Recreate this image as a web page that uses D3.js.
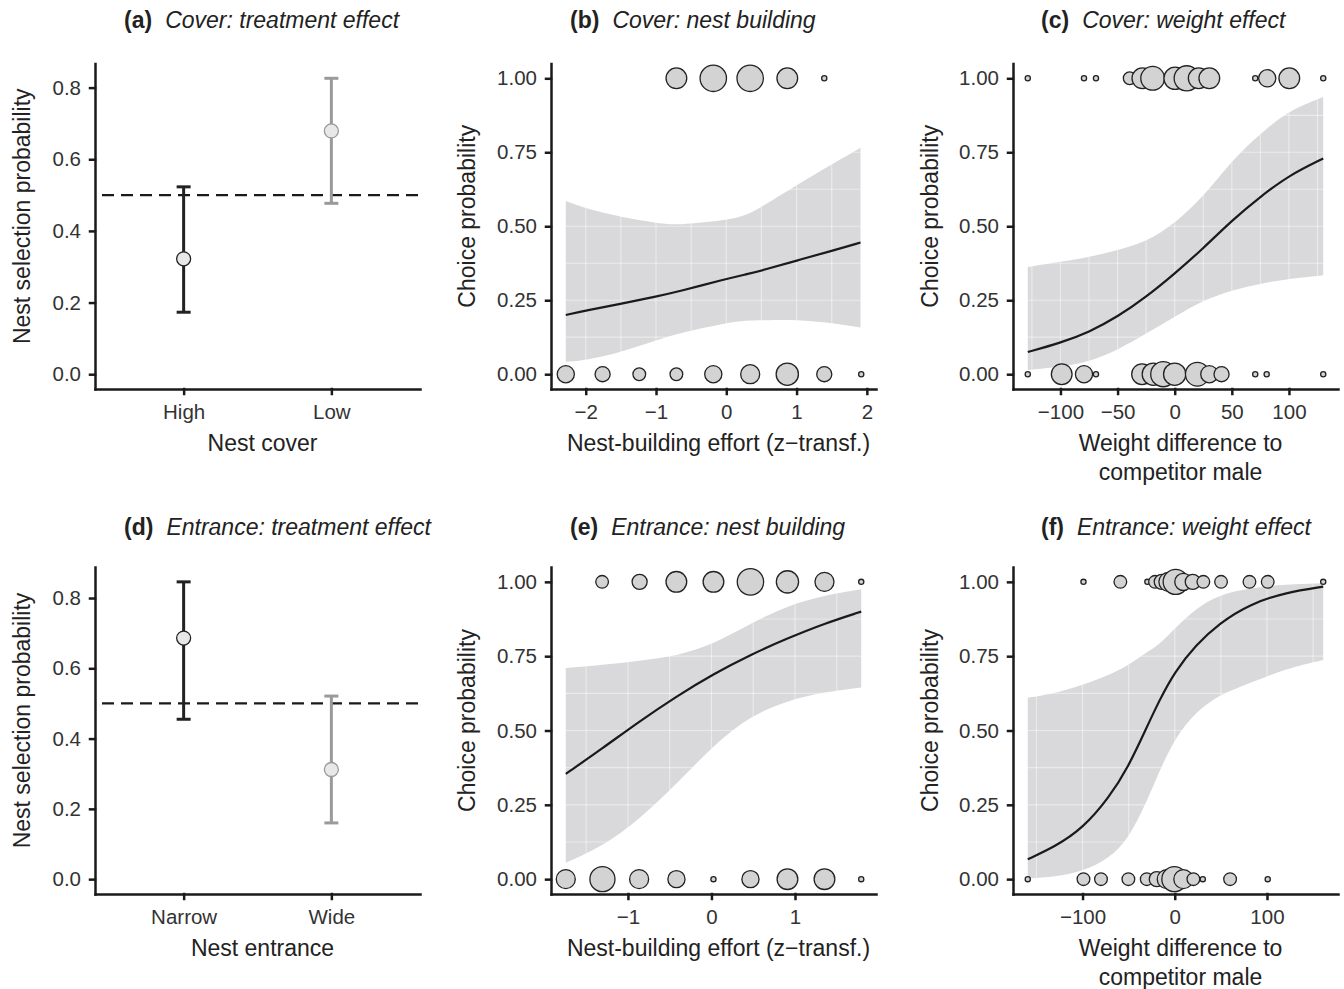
<!DOCTYPE html>
<html>
<head>
<meta charset="utf-8">
<script src="https://cdn.jsdelivr.net/npm/d3@7"></script>
<style>
  body { margin: 0; background: #fff; }
  text { font-family: "Liberation Sans", Arial, sans-serif; }
</style>
</head>
<body>
<script>
// ---- data ----

// (a) cover: treatment effect
const coverLevels = ["High", "Low"];
const coverEst = [0.322, 0.679];
const coverLo = [0.173, 0.477];
const coverHi = [0.523, 0.826];

// (d) entrance: treatment effect
const entranceLevels = ["Narrow", "Wide"];
const entranceEst = [0.686, 0.312];
const entranceLo = [0.455, 0.160];
const entranceHi = [0.846, 0.521];

// (b) cover: nest building
const bTopX = [-0.71, -0.185, 0.34, 0.868, 1.394];
const bTopN = [7, 11, 11, 7, 1];
const bBotX = [-2.284, -1.76, -1.238, -0.71, -0.185, 0.34, 0.868, 1.394, 1.92];
const bBotN = [5, 4, 3, 3, 5, 6, 8, 4, 1];
const bCurveX = [-2.284, -2, -1.49, -0.99, -0.7, 0, 0.29, 0.5, 1, 1.52, 1.91];
const bFit = [0.2, 0.215, 0.238, 0.263, 0.278, 0.322, 0.338, 0.35, 0.384, 0.418, 0.445];
const bHi = [0.585, 0.56, 0.531, 0.511, 0.503, 0.52, 0.537, 0.565, 0.639, 0.712, 0.765];
const bLo = [0.042, 0.047, 0.075, 0.115, 0.137, 0.173, 0.182, 0.182, 0.185, 0.173, 0.158];

// (c) cover: weight effect
const cTopX = [-128.6, -79.4, -68.9, -39.4, -28.3, -19.3, 0.3, 10.5, 21, 30.3, 70.5, 81, 100.3, 130];
const cTopN = [1, 1, 1, 3, 7, 9, 8, 10, 7, 7, 1, 5, 7, 1];
const cBotX = [-128.6, -98.9, -79.4, -68.9, -28.6, -18.7, -10, 0, 19.8, 30.3, 41, 70.5, 80.5, 130];
const cBotN = [1, 7, 5, 1, 7, 8, 10, 8, 9, 5, 4, 1, 1, 1];
const cCurveX = [-128.6, -100, -75, -50, -25, 0, 25, 50, 75, 100, 130];
const cFit = [0.075, 0.106, 0.142, 0.194, 0.261, 0.34, 0.425, 0.52, 0.6, 0.672, 0.729];
const cHi = [0.362, 0.38, 0.396, 0.419, 0.447, 0.509, 0.599, 0.723, 0.813, 0.892, 0.937];
const cLo = [0.014, 0.025, 0.042, 0.081, 0.137, 0.194, 0.25, 0.284, 0.306, 0.323, 0.334];

// (e) entrance: nest building
const eTopX = [-1.309, -0.86, -0.42, 0.024, 0.467, 0.91, 1.353, 1.793];
const eTopN = [3, 4, 7, 7, 11, 8, 6, 1];
const eBotX = [-1.744, -1.305, -0.866, -0.419, 0.024, 0.467, 0.91, 1.353, 1.793];
const eBotN = [6, 10, 6, 5, 1, 5, 7, 7, 1];
const eCurveX = [-1.744, -1.305, -0.866, -0.419, 0.024, 0.467, 0.91, 1.353, 1.793];
const eFit = [0.354, 0.44, 0.53, 0.615, 0.69, 0.755, 0.81, 0.86, 0.9];
const eHi = [0.71, 0.72, 0.735, 0.75, 0.79, 0.86, 0.92, 0.955, 0.975];
const eLo = [0.055, 0.11, 0.2, 0.32, 0.45, 0.55, 0.6, 0.63, 0.645];

// (f) entrance: weight effect
const fTopX = [-99, -59, -29.7, -21.4, -14.1, -6.9, 1, 9.3, 19.5, 31, 50.2, 81, 100.8, 161];
const fTopN = [1, 3, 1, 3, 4, 6, 10, 5, 4, 3, 3, 3, 3, 1];
const fBotX = [-159.4, -99, -80, -50.3, -30.4, -19.5, -8.7, -0.4, 9.3, 20.2, 30.4, 60, 100.8];
const fBotN = [1, 3, 3, 3, 3, 4, 6, 10, 6, 3, 1, 3, 1];
const fCurveX = [-159.4, -130, -100, -71, -50, -32, -17, 0, 23, 48, 81, 121, 161];
const fFit = [0.067, 0.109, 0.17, 0.275, 0.38, 0.5, 0.6, 0.698, 0.788, 0.86, 0.925, 0.965, 0.984];
const fHi = [0.61, 0.625, 0.653, 0.687, 0.72, 0.76, 0.788, 0.844, 0.911, 0.956, 0.979, 0.992, 0.995];
const fLo = [0.002, 0.008, 0.025, 0.07, 0.137, 0.249, 0.361, 0.474, 0.563, 0.62, 0.659, 0.709, 0.737];

// tick values
const probTicks = [0, 0.25, 0.5, 0.75, 1];
const treatTicks = [0, 0.2, 0.4, 0.6, 0.8];
const bTicks = [-2, -1, 0, 1, 2];
const cTicks = [-100, -50, 0, 50, 100];
const eTicks = [-1, 0, 1];
const fTicks = [-100, 0, 100];

// ---- layout ----
const colX = [[95, 420], [551, 876], [1013, 1338]];
const rowY = [[63.5, 389], [567, 894]];
const titleX = [124, 570, 1041];
const yTitleX = [22, 467, 930];
const titleY = [28, 535];

const ink = "#1a1a1a";
const FONT = '"Liberation Sans", Arial, sans-serif';

const svg = d3.select("body").append("svg")
    .attr("width", 1344)
    .attr("height", 989);

// ggplot-like 5% expansion of a range
const expand = ([a, b]) => [a - (b - a) * 0.05, b + (b - a) * 0.05];

// bubble size: area grows linearly with the count
const area = d3.scaleLinear().domain([1, 11]).range([2.6 * 2.6, 13.2 * 13.2]);
const radius = n => Math.sqrt(area(n));

function title(col, row, tag, text) {
    const t = svg.append("text")
        .attr("x", titleX[col])
        .attr("y", titleY[row])
        .attr("font-size", 23)
        .attr("fill", "#222");
    t.append("tspan").attr("font-weight", "bold").text(tag);
    t.append("tspan").attr("dx", 13).attr("font-style", "italic").text(text);
}

function axes(col, row, x, y, xTicks, yTicks, xFmt, yFmt, xLabel, yLabel) {
    const [x0, x1] = colX[col], [y0, y1] = rowY[row];
    const gx = svg.append("g")
        .attr("transform", `translate(0,${y1})`)
        .call(d3.axisBottom(x).tickValues(xTicks).tickFormat(xFmt)
            .tickSize(5).tickSizeOuter(0).tickPadding(10));
    const gy = svg.append("g")
        .attr("transform", `translate(${x0},0)`)
        .call(d3.axisLeft(y).tickValues(yTicks).tickFormat(yFmt)
            .tickSize(5).tickSizeOuter(0).tickPadding(9));
    [gx, gy].forEach(g => {
        g.attr("font-family", FONT).attr("font-size", 20.5);
        g.selectAll("path.domain, line")
            .attr("stroke", ink)
            .attr("stroke-width", 2.5)
            .attr("stroke-linecap", "square");
        g.selectAll("text").attr("fill", "#333");
    });

    // x axis title (one or two lines)
    const lines = Array.isArray(xLabel) ? xLabel : [xLabel];
    lines.forEach((l, i) => {
        svg.append("text")
            .attr("x", (x0 + x1) / 2 + 5)
            .attr("y", y1 + 62 + i * 29)
            .attr("text-anchor", "middle")
            .attr("font-size", 23)
            .attr("fill", "#222")
            .text(l);
    });

    svg.append("text")
        .attr("transform", `translate(${yTitleX[col]},${(y0 + y1) / 2 - 10}) rotate(-90)`)
        .attr("text-anchor", "middle")
        .attr("dominant-baseline", "central")
        .attr("font-size", 23)
        .attr("fill", "#222")
        .text(yLabel);
}

function treatmentPanel(col, row, levels, est, lo, hi, tag, text, xLabel) {
    const [x0, x1] = colX[col], [y0, y1] = rowY[row];
    const x = d3.scalePoint().domain(levels).range([x0, x1]).padding(0.6);
    const y = d3.scaleLinear().domain(expand([0, d3.max(hi)])).range([y1, y0]);
    const colors = ["#222", "#9a9a9a"];

    // reference line at 0.5
    svg.append("line")
        .attr("x1", x0).attr("x2", x1)
        .attr("y1", y(0.5)).attr("y2", y(0.5))
        .attr("stroke", ink)
        .attr("stroke-width", 2.2)
        .attr("stroke-dasharray", "12,7")
        .attr("stroke-dashoffset", 12);

    const g = svg.append("g");
    levels.forEach((lev, i) => {
        const cx = x(lev);
        g.append("line")
            .attr("x1", cx).attr("x2", cx)
            .attr("y1", y(lo[i])).attr("y2", y(hi[i]))
            .attr("stroke", colors[i]).attr("stroke-width", 3);
        [lo[i], hi[i]].forEach(v => {
            g.append("line")
                .attr("x1", cx - 7).attr("x2", cx + 7)
                .attr("y1", y(v)).attr("y2", y(v))
                .attr("stroke", colors[i]).attr("stroke-width", 3);
        });
        g.append("circle")
            .attr("cx", cx).attr("cy", y(est[i]))
            .attr("r", 7)
            .attr("fill", "#e8e8e8")
            .attr("stroke", colors[i])
            .attr("stroke-width", 1.3);
    });

    title(col, row, tag, text);
    axes(col, row, x, y, levels, treatTicks, d => d, d3.format(".1f"),
        xLabel, "Nest selection probability");
}

function effectPanel(col, row, topX, topN, botX, botN, cx, fit, lo, hi,
                     xTicks, tag, text, xLabel) {
    const [x0, x1] = colX[col], [y0, y1] = rowY[row];
    const x = d3.scaleLinear().domain(expand(d3.extent(topX.concat(botX)))).range([x0, x1]);
    const y = d3.scaleLinear().domain(expand([0, 1])).range([y1, y0]);

    const band = cx.map((v, i) => ({ x: v, fit: fit[i], lo: lo[i], hi: hi[i] }));

    svg.append("path")
        .datum(band)
        .attr("fill", "#d9d9db")
        .attr("d", d3.area().curve(d3.curveBasis)
            .x(d => x(d.x)).y0(d => y(d.lo)).y1(d => y(d.hi)));

    // faint panel grid seen through the confidence band
    const xs = xTicks[1] - xTicks[0];
    const dom = x.domain();
    const gx = d3.range(Math.ceil(dom[0] / (xs / 2)), Math.floor(dom[1] / (xs / 2)) + 1)
        .map(k => k * xs / 2);
    const gy = d3.range(0, 9).map(k => k * 0.125);
    const grid = svg.append("g")
        .attr("stroke", "#fff")
        .attr("stroke-opacity", 0.45)
        .attr("stroke-width", 1.2);
    grid.selectAll(".vx").data(gx).join("line")
        .attr("x1", d => x(d)).attr("x2", d => x(d))
        .attr("y1", y0).attr("y2", y1);
    grid.selectAll(".hy").data(gy).join("line")
        .attr("x1", x0).attr("x2", x1)
        .attr("y1", d => y(d)).attr("y2", d => y(d));

    svg.append("path")
        .datum(band)
        .attr("fill", "none")
        .attr("stroke", ink)
        .attr("stroke-width", 2.2)
        .attr("d", d3.line().curve(d3.curveBasis)
            .x(d => x(d.x)).y(d => y(d.fit)));

    const pts = botX.map((v, i) => ({ x: v, y: 0, n: botN[i] }))
        .concat(topX.map((v, i) => ({ x: v, y: 1, n: topN[i] })));
    svg.append("g").selectAll("circle").data(pts).join("circle")
        .attr("cx", d => x(d.x))
        .attr("cy", d => y(d.y))
        .attr("r", d => radius(d.n))
        .attr("fill", "#d3d3d4")
        .attr("stroke", "#222")
        .attr("stroke-width", 1.3);

    title(col, row, tag, text);
    axes(col, row, x, y, xTicks, probTicks, d3.format(""), d3.format(".2f"),
        xLabel, "Choice probability");
}

treatmentPanel(0, 0, coverLevels, coverEst, coverLo, coverHi,
    "(a)", "Cover: treatment effect", "Nest cover");
effectPanel(1, 0, bTopX, bTopN, bBotX, bBotN, bCurveX, bFit, bLo, bHi, bTicks,
    "(b)", "Cover: nest building", "Nest-building effort (z\u2212transf.)");
effectPanel(2, 0, cTopX, cTopN, cBotX, cBotN, cCurveX, cFit, cLo, cHi, cTicks,
    "(c)", "Cover: weight effect", ["Weight difference to", "competitor male"]);

treatmentPanel(0, 1, entranceLevels, entranceEst, entranceLo, entranceHi,
    "(d)", "Entrance: treatment effect", "Nest entrance");
effectPanel(1, 1, eTopX, eTopN, eBotX, eBotN, eCurveX, eFit, eLo, eHi, eTicks,
    "(e)", "Entrance: nest building", "Nest-building effort (z\u2212transf.)");
effectPanel(2, 1, fTopX, fTopN, fBotX, fBotN, fCurveX, fFit, fLo, fHi, fTicks,
    "(f)", "Entrance: weight effect", ["Weight difference to", "competitor male"]);
</script>
</body>
</html>
